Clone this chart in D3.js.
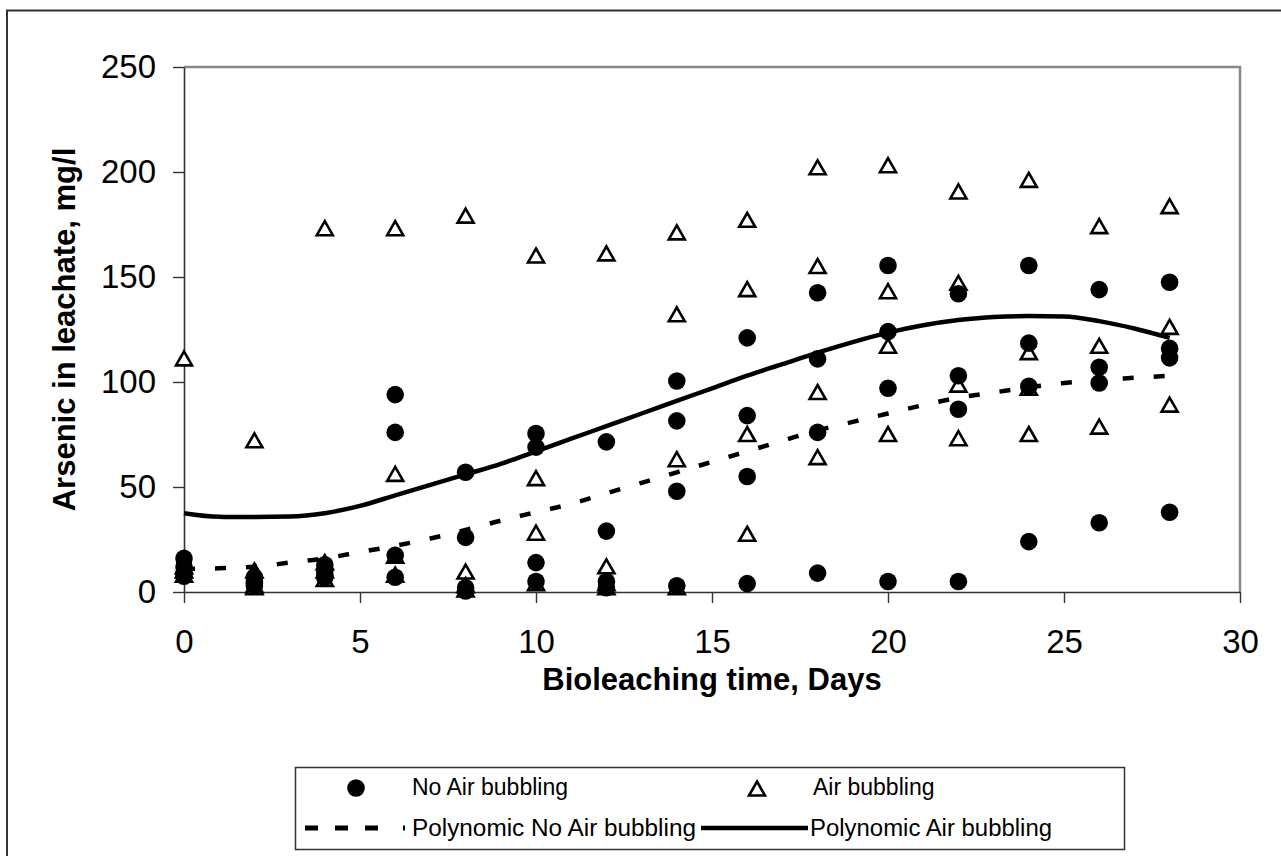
<!DOCTYPE html>
<html>
<head>
<meta charset="utf-8">
<script src="https://cdn.jsdelivr.net/npm/d3@7"></script>
<style>
  html, body { margin: 0; padding: 0; background: #fff; }
  svg { display: block; }
  text { font-family: Arial, "Liberation Sans", sans-serif; fill: #000; }
</style>
</head>
<body>
<svg id="chart" width="1281" height="856"></svg>
<script>
// ---- Data ----
const days = [0, 2, 4, 6, 8, 10, 12, 14, 16, 18, 20, 22, 24, 26, 28];
const noAirBubbling = [
  [16, 12, 9, 7.5],
  [7, 5, 4, 3],
  [13, 10, 8, 7],
  [94, 76, 17.5, 7],
  [57, 26, 2, 0.5],
  [75.5, 69, 14, 5],
  [71.5, 29, 5, 2],
  [100.5, 81.5, 48, 3],
  [121, 84, 55, 4],
  [142.5, 111, 76, 9],
  [155.5, 124, 97, 5],
  [142, 103, 87, 5],
  [155.5, 118.5, 98, 24],
  [144, 107, 99.5, 33],
  [147.5, 116, 111.5, 38]
];
const airBubbling = [
  [111, 12, 10, 8],
  [72, 10, 3, 2],
  [173, 14, 10, 6],
  [173, 56, 17, 8],
  [179, 9.5, 3, 1],
  [160, 54, 28, 4],
  [161, 12, 4, 2],
  [171, 132, 63, 2],
  [177, 144, 75, 27.5],
  [202, 155, 95, 64],
  [203, 143, 117, 75],
  [190.5, 147, 98.5, 73],
  [196, 114, 97, 75],
  [174, 117, 78.5],
  [183.5, 126, 89]
];
const trendDays = [0,1,2,3,4,5,6,7,8,9,10,11,12,13,14,15,16,17,18,19,20,21,22,23,24,25,26,27,28];
const trendNoAir = [11,11.3,12,14,16,19,22,25.5,29.5,34,38,42,47,52,57,62,67,72,77,81,85,89,92.5,95,97.5,99.5,101,102,103];
const trendAir = [37.5,35.8,35.7,35.9,37.5,41,46,51,56,61,67,73,79,85,91,97,103,108.5,114,119,123.5,127,129.5,131,131.4,131.2,129,125.5,121];
const xTicks = [0, 5, 10, 15, 20, 25, 30];
const yTicks = [0, 50, 100, 150, 200, 250];
const xTitle = "Bioleaching time, Days";
const yTitle = "Arsenic in leachate, mg/l";
const legendLabels = ["No Air bubbling", "Air bubbling", "Polynomic No Air bubbling", "Polynomic Air bubbling"];

// ---- Layout ----
const svg = d3.select("#chart");
const plot = { left: 184, right: 1240, top: 67, bottom: 592 };
const x = d3.scaleLinear().domain([0, 30]).range([plot.left, plot.right]);
const y = d3.scaleLinear().domain([0, 250]).range([plot.bottom, plot.top]);

// outer chart frame (only left/top visible)
svg.append("rect").attr("x", 7).attr("y", 10.5).attr("width", 1300).attr("height", 900)
  .attr("fill", "none").attr("stroke", "#333").attr("stroke-width", 2);

// plot area border (top/right grey)
svg.append("path")
  .attr("d", `M${plot.left},${plot.top}H${plot.right}V${plot.bottom}`)
  .attr("fill", "none").attr("stroke", "#888").attr("stroke-width", 2.5);

// axes
const xAxis = d3.axisBottom(x).tickValues(xTicks).tickSize(11).tickSizeOuter(0).tickPadding(27).tickFormat(d3.format("d"));
const yAxis = d3.axisLeft(y).tickValues(yTicks).tickSize(11).tickSizeOuter(0).tickPadding(17).tickFormat(d3.format("d"));

const gx = svg.append("g").attr("transform", `translate(0,${plot.bottom})`).call(xAxis);
const gy = svg.append("g").attr("transform", `translate(${plot.left},0)`).call(yAxis);
[gx, gy].forEach(g => {
  g.select(".domain").attr("stroke", "#333").attr("stroke-width", 1.6);
  g.selectAll(".tick line").attr("stroke", "#333").attr("stroke-width", 1.4);
  g.selectAll(".tick text").attr("font-size", 33).attr("font-family", "Arial, 'Liberation Sans', sans-serif").attr("fill", "#000");
});

// axis titles
svg.append("text").attr("x", (plot.left + plot.right) / 2).attr("y", 690)
  .attr("text-anchor", "middle").attr("font-size", 31).attr("font-weight", "bold").text(xTitle);
svg.append("text").attr("transform", `translate(75,${(plot.top + plot.bottom) / 2}) rotate(-90)`)
  .attr("text-anchor", "middle").attr("font-size", 31).attr("font-weight", "bold").text(yTitle);

// triangle marker path
const triPath = "M0,-7.5L8,6.5L-8,6.5Z";

// flatten data
const airPts = [];
airBubbling.forEach((vals, i) => vals.forEach(v => airPts.push({ d: days[i], v })));
const noAirPts = [];
noAirBubbling.forEach((vals, i) => vals.forEach(v => noAirPts.push({ d: days[i], v })));

const marks = svg.append("g");
marks.selectAll("path.tri").data(airPts).join("path").attr("class", "tri")
  .attr("d", triPath)
  .attr("transform", p => `translate(${x(p.d)},${y(p.v)})`)
  .attr("fill", "#fff").attr("stroke", "#000").attr("stroke-width", 2.6).attr("stroke-linejoin", "miter");
marks.selectAll("circle").data(noAirPts).join("circle")
  .attr("cx", p => x(p.d)).attr("cy", p => y(p.v)).attr("r", 8.8).attr("fill", "#000");

// trendlines
const line = d3.line().x((d, i) => x(trendDays[i])).y(d => y(d)).curve(d3.curveMonotoneX);
svg.append("path").datum(trendNoAir).attr("d", line)
  .attr("fill", "none").attr("stroke", "#000").attr("stroke-width", 4.5).attr("stroke-dasharray", "11,20");
svg.append("path").datum(trendAir).attr("d", line)
  .attr("fill", "none").attr("stroke", "#000").attr("stroke-width", 4.5);

// legend
const lg = svg.append("g");
lg.append("rect").attr("x", 295.5).attr("y", 767.5).attr("width", 829).attr("height", 82)
  .attr("fill", "#fff").attr("stroke", "#333").attr("stroke-width", 1.5);
const row1 = 788, row2 = 828;
lg.append("circle").attr("cx", 356).attr("cy", row1).attr("r", 8.8).attr("fill", "#000");
lg.append("text").attr("x", 412).attr("y", row1 + 7).attr("font-size", 23).text(legendLabels[0]);
lg.append("path").attr("d", triPath).attr("transform", `translate(757,${row1 + 1})`)
  .attr("fill", "#fff").attr("stroke", "#000").attr("stroke-width", 2.6);
lg.append("text").attr("x", 813).attr("y", row1 + 7).attr("font-size", 23).text(legendLabels[1]);
lg.append("line").attr("x1", 305).attr("x2", 407).attr("y1", row2).attr("y2", row2)
  .attr("stroke", "#000").attr("stroke-width", 5).attr("stroke-dasharray", "13,17,13,17,13,25,2,10");
lg.append("text").attr("x", 412).attr("y", row2 + 8).attr("font-size", 23)
  .attr("textLength", 284).attr("lengthAdjust", "spacingAndGlyphs").text(legendLabels[2]);
lg.append("line").attr("x1", 701).attr("x2", 808).attr("y1", row2).attr("y2", row2)
  .attr("stroke", "#000").attr("stroke-width", 4.5);
lg.append("text").attr("x", 810).attr("y", row2 + 8).attr("font-size", 23)
  .attr("textLength", 242).attr("lengthAdjust", "spacingAndGlyphs").text(legendLabels[3]);
</script>
</body>
</html>
